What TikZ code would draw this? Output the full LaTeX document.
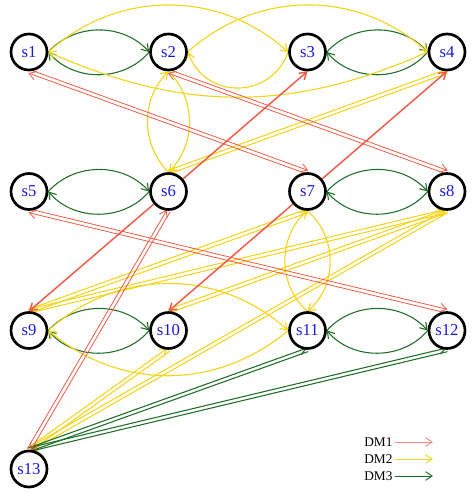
\documentclass[tikz,border=0pt]{standalone}
\usepackage{fontspec}
\setmainfont{Liberation Serif}
\usetikzlibrary{arrows.meta,calc,backgrounds}
\definecolor{dmred}{RGB}{240,90,70}
\definecolor{dmyel}{RGB}{245,212,30}
\definecolor{dmgrn}{RGB}{30,110,40}
\definecolor{sblue}{RGB}{25,25,225}
\newcommand\dmpair[3]{%
  \draw[#1] ($(#2)!1.4pt!90:(#3)$) -- ($(#3)!1.4pt!-90:(#2)$);
  \draw[#1] ($(#3)!1.4pt!90:(#2)$) -- ($(#2)!1.4pt!-90:(#3)$);
}
\begin{document}
\begin{tikzpicture}[x=0.75pt,y=0.75pt,
  state/.style={circle,draw=black,line width=2pt,fill=white,minimum size=27pt,inner sep=0pt,
    font=\fontsize{12.5}{14}\selectfont,text=sblue},
  barb/.style={-{Straight Barb[length=5pt,width=6.5pt]}},
  grnln/.style={barb,draw=dmgrn,line width=0.8pt},
  yelln/.style={barb,draw=dmyel,line width=0.85pt},
  redsg/.style={barb,draw=dmred,line width=1.1pt},
  redpr/.style={barb,draw=dmred,line width=0.6pt},
  yelpr/.style={barb,draw=dmyel,line width=0.8pt},
  grnpr/.style={barb,draw=dmgrn,line width=0.8pt},
  legtext/.style={font=\fontsize{10}{12}\selectfont,inner sep=1.5pt,anchor=west}]
\useasboundingbox (0,0) rectangle (474,-493);
% states
\node[state] (s1) at (29,-52) {s1};
\node[state] (s2) at (168.5,-52) {s2};
\node[state] (s3) at (307.5,-52) {s3};
\node[state] (s4) at (447,-52) {s4};
\node[state] (s5) at (29,-191.5) {s5};
\node[state] (s6) at (168.5,-191.5) {s6};
\node[state] (s7) at (307.5,-191.5) {s7};
\node[state] (s8) at (447,-191.5) {s8};
\node[state] (s9) at (29,-330.5) {s9};
\node[state] (s10) at (168.5,-330.5) {s10};
\node[state] (s11) at (307.5,-330.5) {s11};
\node[state] (s12) at (447,-330.5) {s12};
\node[state] (s13) at (29,-469) {s13};
\begin{scope}[on background layer]
% DM3 loops
\foreach \a/\b in {s1/s2,s3/s4,s5/s6,s7/s8,s9/s10,s11/s12}{
  \draw[grnln] (\a.east) to[bend left=48] (\b.west);
  \draw[grnln] (\b.west) to[bend left=50] (\a.east);
}
% DM2 arcs
\draw[yelln] (s1.east) to[bend left=42] (s3.west);
\draw[yelln] (s2.east) to[bend left=42] (s4.west);
\draw[yelln] (s4.west) to[bend left=24] (s1.east);
\draw[yelln] (s3.west) to[bend left=70,looseness=1.3] (s2.east);
\draw[yelln] (s2.south) to[bend left=45] (s6.north);
\draw[yelln] (s6.north) to[bend left=45] (s2.south);
\draw[yelln] (s7.south) to[bend left=50] (s11.north);
\draw[yelln] (s11.north) to[bend left=50] (s7.south);
\draw[yelln] (s9.east) to[bend left=42] (s11.west);
\draw[yelln] (s11.west) to[bend left=40] (s9.east);
% DM2 pairs
\dmpair{yelpr}{s4.south}{s6.north}
\dmpair{yelpr}{s7.south}{s9.north}
\dmpair{yelpr}{s8.south}{s9.north}
\dmpair{yelpr}{s8.south}{s10.north}
\dmpair{yelpr}{s10.south}{s13.north}
\dmpair{yelpr}{s8.south}{s13.north}
% DM3 pairs
\dmpair{grnpr}{s11.south}{s13.north}
\dmpair{grnpr}{s12.south}{s13.north}
% DM1 pairs
\dmpair{redpr}{s1.south}{s7.north}
\dmpair{redpr}{s2.south}{s8.north}
\dmpair{redpr}{s5.south}{s12.north}
\dmpair{redpr}{s6.south}{s13.north}
% DM1 single
\draw[redsg] (s6) -- (s3.south);
\draw[redsg] (s7) -- (s4.south);
\draw[redsg] (s6) -- (s9.north);
\draw[redsg] (s7) -- (s10.north);
\end{scope}
% legend
\node[legtext] (l1) at (362,-442) {DM1};
\node[legtext] (l2) at (362,-459) {DM2};
\node[legtext] (l3) at (362,-476) {DM3};
\coordinate (e1) at (433,-442);
\coordinate (e2) at (433,-459);
\coordinate (e3) at (433,-476);
\draw[barb,draw=dmred!70,line width=0.7pt] (l1.east) -- (e1);
\draw[barb,draw=dmyel,line width=0.7pt] (l2.east) -- (e2);
\draw[barb,draw=dmgrn,line width=0.7pt] (l3.east) -- (e3);
\end{tikzpicture}
\end{document}
